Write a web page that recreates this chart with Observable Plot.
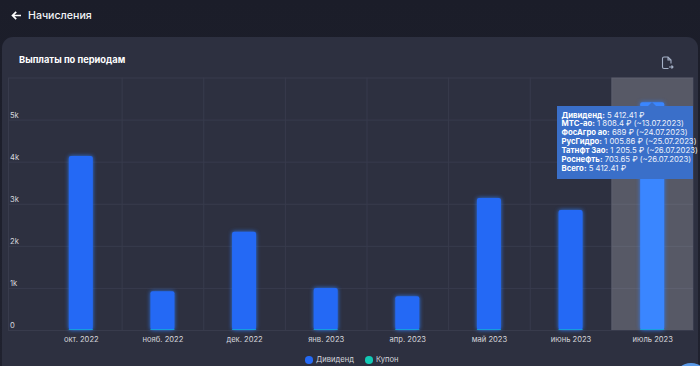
<!DOCTYPE html>
<html lang="ru">
<head>
<meta charset="utf-8">
<script src="https://cdn.jsdelivr.net/npm/d3@7"></script>
<script src="https://cdn.jsdelivr.net/npm/@observablehq/plot@0.6"></script>
<style>
html,body{margin:0;padding:0;}
body{width:700px;height:366px;overflow:hidden;position:relative;background:linear-gradient(#1b1d29,#20222f);font-family:Inter,"Noto Sans",sans-serif;color:#fff;}
.card{position:absolute;left:2px;top:37px;width:696px;height:340px;background:#2d3040;border-radius:11px;}
.abs{position:absolute;white-space:nowrap;}
#chart{position:absolute;left:0;top:0;}
#chart svg{display:block;background:transparent;}
.tip{position:absolute;left:557px;top:106px;width:136px;height:73px;background:#3a6fc9;box-sizing:border-box;padding:4.5px 0 0 4.5px;font-size:7.75px;line-height:8.95px;white-space:nowrap;color:#eef2fb;}
.tip b{font-weight:700;color:#fff;}
.tip:before{content:"";position:absolute;left:91px;top:-4px;border:4px solid transparent;border-top:0;border-bottom:4px solid #3a6fc9;}
.dot{position:absolute;width:7.5px;height:7.5px;border-radius:50%;}
</style>
</head>
<body>
<div class="card"></div>
<svg class="abs" style="left:11px;top:10px" width="11" height="11" viewBox="0 0 11 11"><path d="M10 5.5H2.2M5.2 1.8 1.5 5.5 5.2 9.2" fill="none" stroke="#fff" stroke-width="1.7"/></svg>
<div class="abs" style="left:28px;top:8px;font-size:10.6px;line-height:16px;font-weight:500;color:#f2f3f6">Начисления</div>
<div class="abs" style="left:19px;top:53px;font-size:9.3px;line-height:14px;font-weight:700;color:#fff">Выплаты по периодам</div>
<svg class="abs" style="left:661px;top:56px" width="13" height="14" viewBox="0 0 13 14"><path d="M7.5 12.5H3Q1.5 12.5 1.5 11V2.5Q1.5 1 3 1H7L10 4V7.5M7 1V4H10M8 11H12M10.5 9.5 12 11 10.5 12.5" fill="none" stroke="#a6b2c8" stroke-width="1.1"/></svg>
<div id="chart"></div>
<div class="tip">
<div><b>Дивиденд:</b> 5 412.41 ₽</div>
<div><b>МТС-ао:</b> 1 808.4 ₽ (~13.07.2023)</div>
<div><b>ФосАгро ао:</b> 689 ₽ (~24.07.2023)</div>
<div><b>РусГидро:</b> 1 005.86 ₽ (~25.07.2023)</div>
<div><b>Татнфт Зао:</b> 1 205.5 ₽ (~26.07.2023)</div>
<div><b>Роснефть:</b> 703.65 ₽ (~26.07.2023)</div>
<div><b>Всего:</b> 5 412.41 ₽</div>
</div>
<div class="dot" style="left:305px;top:356px;background:#2469f5"></div>
<div class="abs" style="left:316px;top:354px;font-size:7.6px;line-height:12px;color:#d5d6dc">Дивиденд</div>
<div class="dot" style="left:365px;top:356px;background:#12c9b5"></div>
<div class="abs" style="left:376px;top:354px;font-size:7.6px;line-height:12px;color:#d5d6dc">Купон</div>
<div class="abs" style="left:674px;top:363px;width:34px;height:34px;border-radius:50%;background:#5b9ae8"></div>
<script>
const months = ["окт. 2022","нояб. 2022","дек. 2022","янв. 2023","апр. 2023","май 2023","июнь 2023","июль 2023"];
const dividends = [4133,919,2335,998,800,3135,2850,5412.41];
const coupons = [20,20,20,20,20,20,20,20];
const yTicks = [0,1000,2000,3000,4000,5000];
const yLabels = ["0","1k","2k","3k","4k","5k"];
const highlighted = ["июль 2023"];

const divRows = months.map((m,i)=>({month:m,value:dividends[i]}));
const coupRows = months.map((m,i)=>({month:m,value:coupons[i]}));
const gridColor = "#383b4c";
const glow = (index,scales,values,dims,ctx,next)=>{
  const g = next(index,scales,values,dims,ctx);
  g.style.filter = "drop-shadow(0 0 2px rgba(45,125,255,.9))";
  return g;
};

const plot = Plot.plot({
  width:700, height:366,
  marginLeft:8, marginRight:7, marginTop:77.5, marginBottom:36,
  style:{background:"transparent",fontFamily:"Inter, 'Noto Sans', sans-serif"},
  x:{type:"band",domain:months,range:[40,693],padding:0,round:false,label:null},
  y:{domain:[0,6000],range:[330,77.5],label:null,axis:null},
  marks:[
    Plot.ruleY(yTicks,{y:d=>d,stroke:gridColor,strokeWidth:1}),
    Plot.ruleX(months,{x:d=>d,dx:40.8,y1:0,y2:6000,stroke:gridColor,strokeWidth:1}),
    Plot.frame({stroke:gridColor,strokeWidth:1}),
    Plot.barY(highlighted,{x:d=>d,y1:0,y2:6000,fill:"#fff",fillOpacity:0.2}),
    Plot.barY(divRows,{render:glow,x:"month",y1:0,y2:"value",insetLeft:28.8,insetRight:28.8,rx:2,
      fill:d=>highlighted.includes(d.month)?"#3a86ff":"#2469f5"}),
    Plot.barY(coupRows,{x:"month",y1:0,y2:"value",insetLeft:28.8,insetRight:28.8,fill:"#12a9d8"}),
    Plot.axisX({anchor:"bottom",tickSize:0,tickPadding:6,fontSize:7.6,fill:"#d5d6dc",label:null}),
    Plot.text(yTicks,{y:d=>d,text:(d,i)=>yLabels[i],frameAnchor:"left",textAnchor:"start",dx:1.5,dy:-5,fontSize:7.6,fill:"#d5d6dc"})
  ]
});
document.getElementById("chart").appendChild(plot);
</script>
</body>
</html>
